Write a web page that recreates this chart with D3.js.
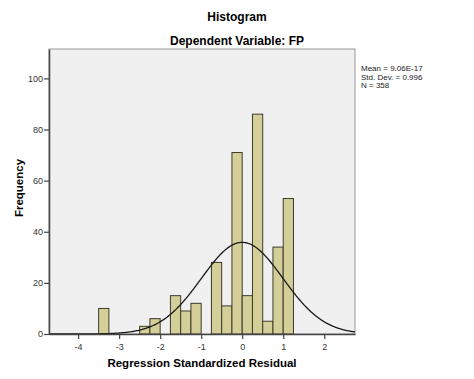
<!DOCTYPE html>
<html>
<head>
<meta charset="utf-8">
<script src="https://cdn.jsdelivr.net/npm/d3@7"></script>
<style>
  body { margin: 0; background: #fff; }
  text { font-family: Arial, "Liberation Sans", sans-serif; }
</style>
</head>
<body>
<div class="chart"></div>
<script>
// histogram bins (lower edge, width 0.25) and counts
const binStarts = [-3.5, -3.25, -3.0, -2.75, -2.5, -2.25, -2.0, -1.75, -1.5, -1.25, -1.0, -0.75, -0.5, -0.25, 0.0, 0.25, 0.5, 0.75, 1.0];
const counts    = [10,   0,     0,    0,     3,    6,     0,    15,    9,    12,    0,    28,    11,   71,    15,  86,   5,   34,   53];
const binWidth = 0.25;

// stats shown in the legend
const stats = { mean: 9.06e-17, sd: 0.996, n: 358 };
const legendLines = ["Mean = 9.06E-17", "Std. Dev. = 0.996", "N = 358"];

const xTicks = [-4, -3, -2, -1, 0, 1, 2];
const yTicks = [0, 20, 40, 60, 80, 100];

const width = 474, height = 379;
const plot = { left: 49, right: 355, top: 49, bottom: 334 };

const svg = d3.select(".chart")
  .append("svg")
  .attr("width", width)
  .attr("height", height);

// scales
const x = d3.scaleLinear().domain([-4.71, 2.75]).range([plot.left, plot.right]);
const y = d3.scaleLinear().domain([0, 111.5]).range([plot.bottom, plot.top]);

// plot background
svg.append("rect")
  .attr("x", plot.left)
  .attr("y", plot.top)
  .attr("width", plot.right - plot.left)
  .attr("height", plot.bottom - plot.top)
  .attr("fill", "#f0f0f0")
  .attr("stroke", "#9a9a9a")
  .attr("stroke-width", 1);

// bars
const bins = binStarts.map((s, i) => ({ x0: s, x1: s + binWidth, n: counts[i] }))
  .filter(d => d.n > 0);

svg.append("g")
  .selectAll("rect")
  .data(bins)
  .enter()
  .append("rect")
  .attr("x", d => x(d.x0))
  .attr("y", d => y(d.n))
  .attr("width", d => x(d.x1) - x(d.x0))
  .attr("height", d => y(0) - y(d.n))
  .attr("fill", "#d4cf99")
  .attr("stroke", "#3c3b2c")
  .attr("stroke-width", 1);

// normal curve scaled to counts
const pdf = v => Math.exp(-0.5 * Math.pow((v - stats.mean) / stats.sd, 2)) /
  (stats.sd * Math.sqrt(2 * Math.PI));
const curvePts = d3.range(0, 301).map(i => {
  const v = x.domain()[0] + (x.domain()[1] - x.domain()[0]) * i / 300;
  return [v, stats.n * binWidth * pdf(v)];
});

svg.append("path")
  .datum(curvePts)
  .attr("fill", "none")
  .attr("stroke", "#1a1a1a")
  .attr("stroke-width", 1.3)
  .attr("d", d3.line().x(d => x(d[0])).y(d => y(d[1])));

// axes (plain hyphen for minus, like the original)
const fmt = d => String(d);
const xAxis = d3.axisBottom(x).tickValues(xTicks).tickFormat(fmt).tickSizeInner(5).tickSizeOuter(0);
const yAxis = d3.axisLeft(y).tickValues(yTicks).tickFormat(fmt).tickSizeInner(5).tickSizeOuter(0);

const gx = svg.append("g")
  .attr("transform", "translate(0," + plot.bottom + ")")
  .call(xAxis);
const gy = svg.append("g")
  .attr("transform", "translate(" + plot.left + ",0)")
  .call(yAxis);

[gx, gy].forEach(g => {
  g.select(".domain").attr("stroke", "#444").attr("stroke-width", 1.5);
  g.selectAll(".tick line").attr("stroke", "#444").attr("stroke-width", 1.2);
  g.selectAll(".tick text")
    .attr("fill", "#333")
    .style("font-size", "9px")
    .style("font-family", "Arial, 'Liberation Sans', sans-serif");
});
gx.selectAll(".tick text").attr("dy", "0.9em");
gy.selectAll(".tick text").attr("x", -6);

// titles
svg.append("text")
  .attr("x", 237).attr("y", 21)
  .attr("text-anchor", "middle")
  .style("font-size", "12px").style("font-weight", "bold")
  .text("Histogram");

svg.append("text")
  .attr("x", 237).attr("y", 45)
  .attr("text-anchor", "middle")
  .style("font-size", "12px").style("font-weight", "bold")
  .text("Dependent Variable: FP");

svg.append("text")
  .attr("x", (plot.left + plot.right) / 2).attr("y", 367)
  .attr("text-anchor", "middle")
  .style("font-size", "11.5px").style("font-weight", "bold")
  .text("Regression Standardized Residual");

svg.append("text")
  .attr("transform", "translate(23," + 188 + ") rotate(-90)")
  .attr("text-anchor", "middle")
  .style("font-size", "11.5px").style("font-weight", "bold")
  .text("Frequency");

// legend
svg.append("g")
  .selectAll("text")
  .data(legendLines)
  .enter()
  .append("text")
  .attr("x", 361)
  .attr("y", (d, i) => 71 + i * 8.5)
  .style("font-size", "8px")
  .attr("fill", "#222")
  .text(d => d);
</script>
</body>
</html>
